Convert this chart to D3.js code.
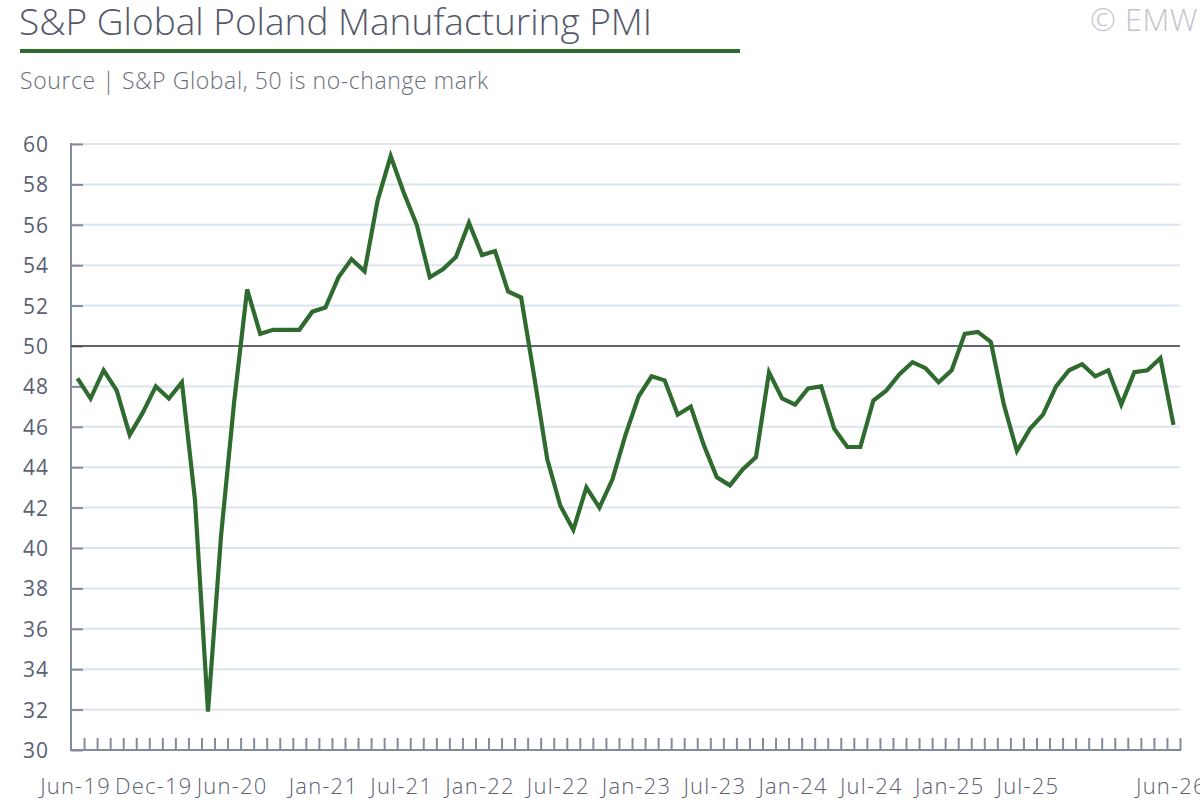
<!DOCTYPE html>
<html>
<head>
<meta charset="utf-8">
<script src="https://cdn.jsdelivr.net/npm/d3@7"></script>
<style>
  body { margin: 0; background: #fff; }
  svg { display: block; font-family: "Open Sans", "Lato", sans-serif; font-weight: 300; }
</style>
</head>
<body>
<svg width="1200" height="800"></svg>
<script>
// monthly, Jun-19 .. Jun-26
var months = ["Jun-19","Jul-19","Aug-19","Sep-19","Oct-19","Nov-19","Dec-19",
  "Jan-20","Feb-20","Mar-20","Apr-20","May-20","Jun-20","Jul-20","Aug-20","Sep-20","Oct-20","Nov-20","Dec-20",
  "Jan-21","Feb-21","Mar-21","Apr-21","May-21","Jun-21","Jul-21","Aug-21","Sep-21","Oct-21","Nov-21","Dec-21",
  "Jan-22","Feb-22","Mar-22","Apr-22","May-22","Jun-22","Jul-22","Aug-22","Sep-22","Oct-22","Nov-22","Dec-22",
  "Jan-23","Feb-23","Mar-23","Apr-23","May-23","Jun-23","Jul-23","Aug-23","Sep-23","Oct-23","Nov-23","Dec-23",
  "Jan-24","Feb-24","Mar-24","Apr-24","May-24","Jun-24","Jul-24","Aug-24","Sep-24","Oct-24","Nov-24","Dec-24",
  "Jan-25","Feb-25","Mar-25","Apr-25","May-25","Jun-25","Jul-25","Aug-25","Sep-25","Oct-25","Nov-25","Dec-25",
  "Jan-26","Feb-26","Mar-26","Apr-26","May-26","Jun-26"];

var pmi = [48.4, 47.4, 48.8, 47.8, 45.6, 46.7, 48.0,
  47.4, 48.2, 42.4, 31.9, 40.6, 47.2, 52.8, 50.6, 50.8, 50.8, 50.8, 51.7,
  51.9, 53.4, 54.3, 53.7, 57.2, 59.4, 57.6, 56.0, 53.4, 53.8, 54.4, 56.1,
  54.5, 54.7, 52.7, 52.4, 48.5, 44.4, 42.1, 40.9, 43.0, 42.0, 43.4, 45.6,
  47.5, 48.5, 48.3, 46.6, 47.0, 45.1, 43.5, 43.1, 43.9, 44.5, 48.7, 47.4,
  47.1, 47.9, 48.0, 45.9, 45.0, 45.0, 47.3, 47.8, 48.6, 49.2, 48.9, 48.2,
  48.8, 50.6, 50.7, 50.2, 47.1, 44.8, 45.9, 46.6, 48.0, 48.8, 49.1, 48.5,
  48.8, 47.1, 48.7, 48.8, 49.4, 46.1];

var xLabels = ["Jun-19","Dec-19","Jun-20","Jan-21","Jul-21","Jan-22","Jul-22",
  "Jan-23","Jul-23","Jan-24","Jul-24","Jan-25","Jul-25","Jun-26"];
var yTicks = d3.range(30, 61, 2);
var noChange = 50;

var svg = d3.select("svg");
var plotLeft = 71, plotRight = 1180, plotTop = 144, plotBottom = 750;
var axisCol = "#838a9b", textCol = "#5b6073";

// header
svg.append("text").attr("x", 19).attr("y", 35)
  .attr("font-size", 37).attr("fill", "#545869")
  .text("S&P Global Poland Manufacturing PMI");
svg.append("rect").attr("x", 20).attr("y", 49).attr("width", 720).attr("height", 4)
  .attr("fill", "#2f6b2e");
svg.append("text").attr("x", 20).attr("y", 89)
  .attr("font-size", 23).attr("letter-spacing", 0.6).attr("fill", "#6a6e7c")
  .text("Source | S&P Global, 50 is no-change mark");
svg.append("text").attr("x", 1198).attr("y", 31).attr("text-anchor", "end")
  .attr("font-size", 31).attr("letter-spacing", 0.5).attr("fill", "#c3c5cc")
  .text("© EMW");

var x = d3.scaleBand().domain(months).range([plotLeft, plotRight]);
var y = d3.scaleLinear().domain([30, 60]).range([plotBottom, plotTop]);

// grid
svg.append("g").selectAll("line").data(yTicks.filter(function(d) { return d > 30; }))
  .enter().append("line")
  .attr("x1", plotLeft).attr("x2", plotRight)
  .attr("y1", function(d) { return y(d); }).attr("y2", function(d) { return y(d); })
  .attr("stroke", "#dce5ef").attr("stroke-width", 2);

// y axis, ticks pointing inward
var yAxis = svg.append("g").attr("transform", "translate(" + plotLeft + ",0)")
  .call(d3.axisRight(y).tickValues(yTicks).tickSize(12).tickFormat(""));
yAxis.select(".domain").remove();
yAxis.selectAll(".tick line").attr("stroke", axisCol).attr("stroke-width", 2);
svg.append("line").attr("x1", plotLeft).attr("x2", plotLeft).attr("y1", plotTop - 1).attr("y2", plotBottom)
  .attr("stroke", axisCol).attr("stroke-width", 2);

svg.append("g").selectAll("text").data(yTicks).enter().append("text")
  .attr("x", 49).attr("y", function(d) { return y(d) + 8; })
  .attr("text-anchor", "end").attr("font-size", 21).attr("font-weight", 400)
  .attr("letter-spacing", 1).attr("fill", textCol)
  .text(function(d) { return d; });

// x axis: ticks at month boundaries
var bounds = months.map(function(m) { return x(m) + x.bandwidth(); });
var xAxis = svg.append("g").attr("transform", "translate(0," + plotBottom + ")")
  .call(d3.axisTop(d3.scaleLinear().domain([plotLeft, plotRight]).range([plotLeft, plotRight]))
    .tickValues(bounds).tickSize(12).tickFormat(""));
xAxis.select(".domain").remove();
xAxis.selectAll(".tick line").attr("stroke", axisCol).attr("stroke-width", 2);
svg.append("line").attr("x1", plotLeft - 1).attr("x2", plotRight + 1).attr("y1", plotBottom).attr("y2", plotBottom)
  .attr("stroke", axisCol).attr("stroke-width", 2);

svg.append("g").selectAll("text").data(xLabels).enter().append("text")
  .attr("x", function(d) { return x(d) + x.bandwidth() / 2 - 2; })
  .attr("y", 794).attr("text-anchor", "middle")
  .attr("font-size", 22).attr("letter-spacing", 1.2).attr("fill", textCol)
  .text(function(d) { return d; });

// 50 line
svg.append("line").attr("x1", plotLeft).attr("x2", plotRight)
  .attr("y1", y(noChange)).attr("y2", y(noChange))
  .attr("stroke", "#3a3d45").attr("stroke-width", 1.6);

// pmi line
var line = d3.line()
  .x(function(d, i) { return x(months[i]) + x.bandwidth() / 2; })
  .y(function(d) { return y(d); });

svg.append("path").datum(pmi)
  .attr("fill", "none")
  .attr("stroke", "#2f6b2e")
  .attr("stroke-width", 4.2)
  .attr("stroke-linejoin", "miter")
  .attr("d", line);
</script>
</body>
</html>
